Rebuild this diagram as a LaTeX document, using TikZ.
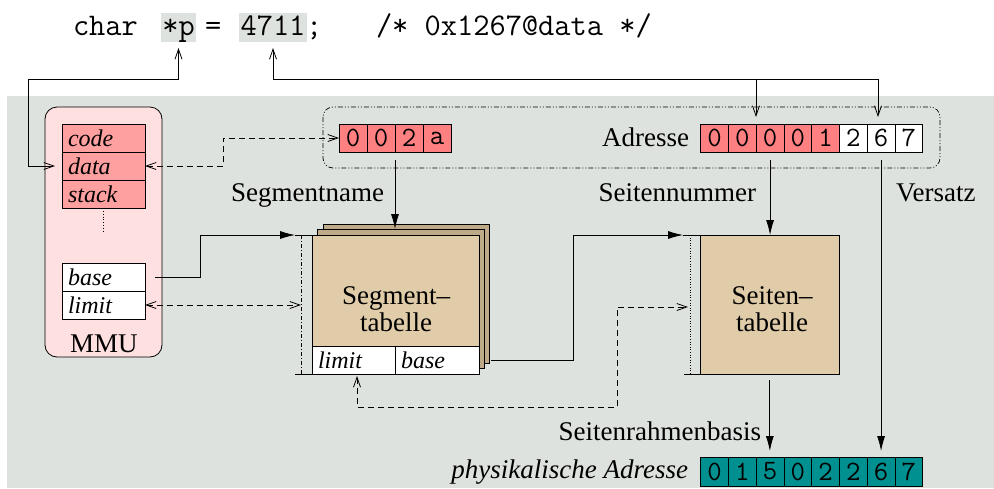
\documentclass[tikz,border=0pt]{standalone}
\usepackage{fontspec}
\setmainfont{Liberation Serif}
\usetikzlibrary{arrows.meta,calc}
\definecolor{bggray}{RGB}{222,226,222}
\definecolor{cellred}{RGB}{255,128,128}
\definecolor{mmupink}{RGB}{255,224,224}
\definecolor{regpink}{RGB}{255,160,160}
\definecolor{segtan}{RGB}{224,204,168}
\definecolor{darktan}{RGB}{190,170,136}
\definecolor{physteal}{RGB}{0,144,144}
\tikzset{
  myopen/.tip={Straight Barb[length=10pt,width=7pt]},
  myfill/.tip={Latex[length=15pt,width=8pt]},
  codetxt/.style={font=\fontsize{31.5}{33}\selectfont\ttfamily},
  codehl/.style={fill=bggray, text height=22pt, text depth=7pt},
  lbl/.style={font=\fontsize{27}{27}\selectfont},
  cellbox/.style={draw, minimum width=27.75pt, minimum height=28pt, anchor=north west, font=\fontsize{28}{28}\selectfont\ttfamily},
  regbox/.style={draw, minimum width=83pt, minimum height=28pt, text width=71pt, align=left, anchor=north west, font=\fontsize{24}{24}\selectfont\itshape},
  tabbox/.style={draw, minimum height=139pt, anchor=north west},
  frame/.style={dash pattern=on 5pt off 2pt on 1pt off 2pt on 1pt off 2pt, line width=0.7pt, rounded corners=10pt},
  dashdotline/.style={dash pattern=on 4pt off 2pt on 1pt off 2pt, line width=0.6pt},
  dashline/.style={dash pattern=on 6pt off 4pt},
}
\begin{document}
\begin{tikzpicture}[x=1pt,y=-1pt,line width=0.8pt,every node/.style={inner sep=0pt,outer sep=0pt}]
\useasboundingbox (0,0) rectangle (994,488);
\fill[bggray] (7,96) rectangle (994,488);

% code line
\node[codetxt, anchor=base west] (cchar) at (73,35) {char};
\node[codetxt, codehl, minimum width=35pt, anchor=base west] (cp) at (161,35) {*p};
\node[codetxt, anchor=base west] (ceq) at (205,35) {=};
\node[codetxt, codehl, minimum width=68pt, anchor=base west] (cnum) at (239,35) {4711};
\node[codetxt, anchor=base west] (csemi) at (306,35) {;};
\node[codetxt, anchor=base west] (ccom) at (376,35) {/* 0x1267@data */};

% address frame
\draw[frame] (323,107) rectangle (940,168);

% MMU
\node[draw, fill=mmupink, rounded corners=12pt, minimum width=117pt, minimum height=250pt, anchor=north west] (mmu) at (45,107) {};
\node[regbox, fill=regpink] (code) at (62,124) {code};
\node[regbox, fill=regpink] (data) at (62,152) {data};
\node[regbox, fill=regpink] (stack) at (62,180) {stack};
\draw[dotted] ($(stack.south)+(0,3)$) -- ($(stack.south)+(0,25)$);
\node[regbox, fill=white] (mbase) at (62,263) {base};
\node[regbox, fill=white] (mlimit) at (62,291) {limit};
\node[lbl, anchor=base] (mmulbl) at (104,352) {MMU};

% segment table
\node[tabbox, fill=darktan, minimum width=166pt] (segback1) at (323,224) {};
\node[tabbox, fill=darktan, minimum width=167pt] (segback2) at (317,229) {};
\node[tabbox, fill=segtan, minimum width=167pt] (segtab) at (312,235) {};
\node[lbl, align=center] (segtxt) at (396,309) {Segment–\\tabelle};
\node[regbox, fill=white] (slimit) at (312,346) {limit};
\node[regbox, fill=white, minimum width=84pt, text width=72pt] (sbase) at (395,346) {base};

% page table
\node[tabbox, fill=segtan, minimum width=138.3pt] (pagetab) at (700.7,235) {};
\node[lbl, align=center] (pagetxt) at (772,309) {Seiten–\\tabelle};

% cells
\foreach \d [count=\i from 0] in {0,0,2,a}
  \node[cellbox, fill=cellred, minimum width=28pt] (seg\i) at ({339+28*\i},124) {\d};
\foreach \d [count=\i from 0] in {0,0,0,0,1}
  \node[cellbox, fill=cellred] (adr\i) at ({700.7+27.75*\i},124) {\d};
\foreach \d [count=\i from 5] in {2,6,7}
  \node[cellbox, fill=white] (adr\i) at ({700.7+27.75*\i},124) {\d};
\foreach \d [count=\i from 0] in {0,1,5,0,2,2,6,7}
  \node[cellbox, fill=physteal, minimum height=29pt] (phy\i) at ({700.7+27.75*\i},457) {\d};

% labels
\node[lbl, anchor=base east] (adrlbl) at (689,146) {Adresse};
\node[lbl, anchor=base east] (segname) at (384,201) {Segmentname};
\node[lbl, anchor=base east] (seitnr) at (756,201) {Seitennummer};
\node[lbl, anchor=base west] (versatz) at (896,201) {Versatz};
\node[lbl, anchor=base east] (srb) at (761,440) {Seitenrahmenbasis};
\node[lbl, anchor=base east, font=\fontsize{27}{27}\selectfont\itshape] (phylbl) at (688,478) {physikalische Adresse};

% coordinates
\coordinate (tipA) at (756,117);
\coordinate (tipB) at (878,117);
\coordinate (brA) at (756,79);
\coordinate (segtip) at (295,235);
\coordinate (segbot) at (295,374);
\coordinate (segbar) at (301,235);
\coordinate (segbarb) at (301,374);
\coordinate (pagetip) at (683,235);
\coordinate (pagebot) at (684,374);
\coordinate (pagebar) at (690,235);
\coordinate (pagebarb) at (690,374);
\coordinate (slimtip) at (357,376);
\coordinate (pagedash) at (688,307);

% connectors
\draw[myopen-myopen, shorten <=6pt, shorten >=7pt] (cp.south) |- (28,79) |- (data.west);
\draw[myopen-myopen, shorten <=6pt] (cnum.south) |- (878,79) -- (tipB);
\draw[-myopen] (brA) -- (tipA);
\draw[dashline, myopen-myopen] (data.east) -- (223,166) |- (seg0.west);
\draw[-myfill, shorten <=8pt] (seg1.south east) -- (seg1.south east |- segback2.north);
\draw[-myfill, shorten <=10pt] (mbase.east) -- (200,277) |- (segtip);
\draw (segtip) -- (segtab.north west);
\draw (segbot) -- (segtab.south west);
\draw[dashdotline] (segbar) -- (segbarb);
\draw[dashline, myopen-myopen] (mlimit.east) -- (mlimit.east -| segbar);
\draw[-myfill, shorten <=12pt] (sbase.east) -- (573,360) |- (pagetip);
\draw (pagetip) -- (pagetab.north west);
\draw (pagebot) -- (pagetab.south west);
\draw[dotted, line width=0.6pt] (pagebar) -- (pagebarb);
\draw[dashline, myopen-myopen] (slimtip) -- (357,407) -| (617,307) -- (pagedash);
\draw[-myfill, shorten <=8pt] (adr2.south) -- (adr2.south |- pagetab.north);
\draw[-myfill, shorten <=8pt, shorten >=6pt] (adr6.south) -- (phy6.north);
\draw[-myfill, shorten <=6pt, shorten >=6pt] (pagetab.south) -- (pagetab.south |- phy2.north);
\end{tikzpicture}
\end{document}
